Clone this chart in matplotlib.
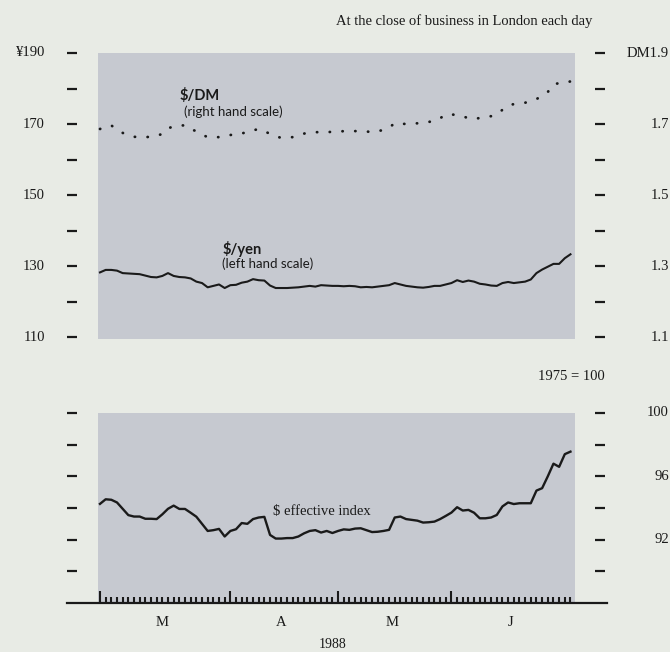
import numpy as np
import matplotlib.pyplot as plt

# business days in London, 1 March - 30 June 1988 (index 0..83)
yen = [128.2, 128.9, 128.9, 128.7, 128.0, 127.9, 127.8, 127.7, 127.3, 126.9,
       126.8, 127.2, 128.0, 127.2, 126.9, 126.8, 126.5, 125.6, 125.2, 124.0,
       124.4, 124.8, 123.8, 124.6, 124.7, 125.3, 125.6, 126.3, 126.0, 125.9,
       124.5, 123.8, 123.8, 123.8, 123.9, 124.0, 124.2, 124.4, 124.2, 124.6,
       124.5, 124.4, 124.4, 124.3, 124.4, 124.3, 124.0, 124.1, 124.0, 124.2,
       124.4, 124.6, 125.2, 124.8, 124.4, 124.2, 124.0, 123.9, 124.1, 124.4,
       124.4, 124.8, 125.2, 126.0, 125.5, 125.9, 125.6, 125.0, 124.8, 124.5,
       124.4, 125.2, 125.5, 125.2, 125.4, 125.6, 126.2, 128.0, 129.0, 129.8,
       130.6, 130.6, 132.2, 133.3]

dm = [1.686, 1.692, 1.696, 1.684, 1.675, 1.668, 1.664, 1.663, 1.663, 1.664,
      1.667, 1.672, 1.688, 1.693, 1.696, 1.696, 1.685, 1.680, 1.670, 1.663,
      1.663, 1.663, 1.666, 1.669, 1.671, 1.674, 1.676, 1.682, 1.686, 1.680,
      1.672, 1.665, 1.661, 1.662, 1.663, 1.668, 1.673, 1.676, 1.677, 1.677,
      1.677, 1.678, 1.678, 1.680, 1.680, 1.680, 1.680, 1.679, 1.677, 1.680,
      1.683, 1.690, 1.702, 1.701, 1.700, 1.701, 1.702, 1.703, 1.706, 1.708,
      1.716, 1.727, 1.727, 1.725, 1.722, 1.716, 1.714, 1.717, 1.720, 1.722,
      1.727, 1.740, 1.752, 1.756, 1.758, 1.760, 1.764, 1.770, 1.780, 1.790,
      1.812, 1.815, 1.816, 1.820]

eff = [94.26, 94.55, 94.52, 94.35, 93.95, 93.55, 93.46, 93.46, 93.32, 93.32,
       93.30, 93.60, 93.95, 94.15, 93.94, 93.94, 93.70, 93.45, 93.00, 92.55,
       92.60, 92.68, 92.20, 92.55, 92.66, 93.05, 93.00, 93.30, 93.40, 93.44,
       92.30, 92.07, 92.07, 92.10, 92.10, 92.20, 92.40, 92.55, 92.60, 92.45,
       92.55, 92.42, 92.55, 92.65, 92.62, 92.70, 92.72, 92.60, 92.48, 92.50,
       92.55, 92.62, 93.40, 93.46, 93.30, 93.25, 93.20, 93.08, 93.10, 93.14,
       93.30, 93.50, 93.71, 94.05, 93.84, 93.88, 93.70, 93.35, 93.35, 93.40,
       93.56, 94.10, 94.35, 94.25, 94.30, 94.30, 94.30, 95.10, 95.25, 96.00,
       96.80, 96.60, 97.40, 97.56]

month_starts = [0, 23, 42, 62]
month_ends = [22, 41, 61, 83]
month_labels = ['M', 'A', 'M', 'J']

yen_ticks = [190, 170, 150, 130, 110]
yen_labels = ['¥190', '170', '150', '130', '110']
dm_ticks = [1.9, 1.7, 1.5, 1.3, 1.1]
dm_labels = ['DM1.9', '1.7', '1.5', '1.3', '1.1']
eff_ticks = [100, 96, 92]
eff_labels = ['100', '96', '92']

bg = '#e8ebe5'
shade = '#c6c9d0'
ink = '#1a1a1a'
serif = 'Liberation Serif'
sans = 'Lato'

x = np.arange(len(yen))
W, H = 670, 652

fig = plt.figure(figsize=(6.7, 6.52), dpi=100)
fig.patch.set_facecolor(bg)

def px(left, top, right, bottom):
    return [left / W, 1 - bottom / H, (right - left) / W, (bottom - top) / H]

def dash_axis(ax, side, outward):
    ax.spines[side].set_visible(False)
    ax.spines[side].set_position(('outward', outward))
    ax.tick_params(axis='y', which='both', direction='inout', length=6.5,
                   width=1.6, color=ink, labelleft=False, labelright=False,
                   left=(side == 'left'), right=(side == 'right'))

# ---- top panel: $/yen and $/DM
ax1 = fig.add_axes(px(98, 53, 575, 339))
ax1.set_facecolor(shade)
for s in ['top', 'bottom', 'right']:
    ax1.spines[s].set_visible(False)
ax1.plot(x, yen, color=ink, lw=1.5)
ax1.set_xlim(-0.35, 83.8)
ax1.set_ylim(109.44, 190)
ax1.set_xticks([])
ax1.set_yticks(range(110, 191, 10))
dash_axis(ax1, 'left', 18.7)
for v, lab in zip(yen_ticks, yen_labels):
    ax1.text(-0.111, v, lab, transform=ax1.get_yaxis_transform(), ha='right',
             va='center', fontsize=10.5, family=serif, color=ink)

ax2 = ax1.twinx()
for s in ['top', 'bottom', 'left']:
    ax2.spines[s].set_visible(False)
ax2.plot(x, dm, color=ink, lw=2.0, linestyle=(0, (0.1, 4.5)),
         dash_capstyle='round')
ax2.set_ylim(1.0944, 1.9)
ax2.set_yticks(np.arange(1.1, 1.91, 0.1))
dash_axis(ax2, 'right', 18)
for v, lab in zip(dm_ticks, dm_labels):
    ax2.text(1.197, v, lab, transform=ax2.get_yaxis_transform(), ha='right',
             va='center', fontsize=10.5, family=serif, color=ink)

# ---- bottom panel: $ effective index
ax3 = fig.add_axes(px(98, 413, 575, 603))
ax3.set_facecolor(shade)
for s in ['top', 'bottom']:
    ax3.spines[s].set_visible(False)
ax3.plot(x, eff, color=ink, lw=1.7)
ax3.set_xlim(-0.35, 83.8)
ax3.set_ylim(88, 100)
ax3.set_yticks(range(90, 101, 2))
for side, off in [('left', 18.7), ('right', 18)]:
    ax3.spines[side].set_visible(False)
    ax3.spines[side].set_position(('outward', off))
ax3.tick_params(axis='y', direction='inout', length=6.5, width=1.6, color=ink,
                left=True, right=True, labelleft=False, labelright=False)
for v, lab in zip(eff_ticks, eff_labels):
    ax3.text(1.197, v, lab, transform=ax3.get_yaxis_transform(), ha='right',
             va='center', fontsize=10.5, family=serif, color=ink)

ax3.set_xticks(month_starts)
ax3.set_xticks(x, minor=True)
ax3.tick_params(axis='x', which='major', direction='in', length=8.5, width=1.5,
                color=ink, labelbottom=False)
ax3.tick_params(axis='x', which='minor', direction='in', length=4.5, width=1.5,
                color=ink)
ax3.plot([-0.065, 1.067], [0, 0], transform=ax3.transAxes, clip_on=False,
         color=ink, lw=1.6)
for s, e, lab in zip(month_starts, month_ends, month_labels):
    ax3.text((s + e) / 2, -0.1, lab, transform=ax3.get_xaxis_transform(),
             ha='center', va='center', fontsize=10.5, family=serif, color=ink)

# ---- labels
fig.text(180 / W, 1 - 95 / H, '$/DM', fontsize=10.5, family=sans,
         weight='bold', color=ink, va='center')
fig.text(184 / W, 1 - 112 / H, '(right hand scale)', fontsize=9.5,
         family=sans, color=ink, va='center')
fig.text(223 / W, 1 - 249 / H, '$/yen', fontsize=10.5, family=sans,
         weight='bold', color=ink, va='center')
fig.text(222 / W, 1 - 264 / H, '(left hand scale)', fontsize=9.5,
         family=sans, color=ink, va='center')
fig.text(273 / W, 1 - 511 / H, '$ effective index', fontsize=10.5,
         family=serif, color=ink, va='center')
fig.text(605 / W, 1 - 377 / H, '1975 = 100', fontsize=10.5, family=serif,
         color=ink, ha='right', va='center')
fig.text(592 / W, 1 - 21 / H, 'At the close of business in London each day',
         fontsize=10.5, family=serif, color=ink, ha='right', va='center')
fig.text(333 / W, 1 - 645 / H, '1988', fontsize=10, family=serif, color=ink,
         ha='center', va='center')

fig.savefig('out.png', dpi=100, facecolor=bg)
